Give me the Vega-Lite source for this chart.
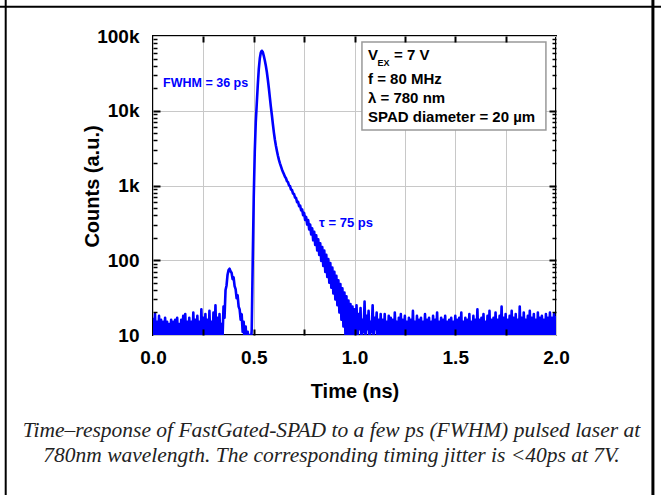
{
"$schema": "https://vega.github.io/schema/vega-lite/v6.json",
"width": 403,
"height": 299,
"autosize": {"type": "none"},
"padding": {"left": 153, "top": 36, "right": 105, "bottom": 160},
"background": "white",
"config": {"view": {"stroke": "black", "strokeWidth": 2}},
"title": {"text": ["Time–response of FastGated-SPAD to a few ps (FWHM) pulsed laser at", "780nm wavelength. The corresponding timing jitter is <40ps at 7V."], "orient": "bottom", "anchor": "middle", "frame": "group", "font": "Liberation Serif", "fontStyle": "italic", "fontWeight": "normal", "fontSize": 21.5, "lineHeight": 25, "color": "#222222", "offset": -76, "dx": -23},
"datasets": {
"dummy": [{"t": 1, "c": 100}],
"trace": [
{"t":0.000,"c":17},{"t":0.005,"c":8},{"t":0.010,"c":19},{"t":0.015,"c":7},{"t":0.020,"c":15},{"t":0.025,"c":9},{"t":0.030,"c":18},{"t":0.035,"c":6},{"t":0.040,"c":16},{"t":0.045,"c":8},
{"t":0.050,"c":15},{"t":0.055,"c":7},{"t":0.060,"c":17},{"t":0.065,"c":9},{"t":0.070,"c":15},{"t":0.075,"c":6},{"t":0.080,"c":14},{"t":0.085,"c":8},{"t":0.090,"c":16},{"t":0.095,"c":7},
{"t":0.100,"c":15},{"t":0.105,"c":9},{"t":0.110,"c":16},{"t":0.115,"c":6},{"t":0.120,"c":17},{"t":0.125,"c":8},{"t":0.130,"c":14},{"t":0.135,"c":7},{"t":0.140,"c":16},{"t":0.145,"c":9},
{"t":0.150,"c":18},{"t":0.155,"c":6},{"t":0.160,"c":19},{"t":0.165,"c":8},{"t":0.170,"c":15},{"t":0.175,"c":7},{"t":0.180,"c":17},{"t":0.185,"c":9},{"t":0.190,"c":15},{"t":0.195,"c":6},
{"t":0.200,"c":20},{"t":0.205,"c":8},{"t":0.210,"c":16},{"t":0.215,"c":7},{"t":0.220,"c":18},{"t":0.225,"c":9},{"t":0.230,"c":15},{"t":0.235,"c":6},{"t":0.240,"c":22},{"t":0.245,"c":8},
{"t":0.250,"c":17},{"t":0.255,"c":7},{"t":0.260,"c":19},{"t":0.265,"c":9},{"t":0.270,"c":16},{"t":0.275,"c":6},{"t":0.280,"c":21},{"t":0.285,"c":8},{"t":0.290,"c":15},{"t":0.295,"c":7},
{"t":0.300,"c":20},{"t":0.305,"c":9},{"t":0.310,"c":25},{"t":0.315,"c":7},{"t":0.320,"c":17},{"t":0.325,"c":8},{"t":0.330,"c":19},{"t":0.335,"c":7},{"t":0.340,"c":14},{"t":0.345,"c":9},
{"t":0.350,"c":24},{"t":0.355,"c":17},{"t":0.360,"c":40},{"t":0.365,"c":46},{"t":0.370,"c":64},{"t":0.375,"c":74},{"t":0.380,"c":77},{"t":0.385,"c":71},{"t":0.390,"c":68},{"t":0.395,"c":56},
{"t":0.400,"c":59},{"t":0.405,"c":45},{"t":0.410,"c":41},{"t":0.415,"c":31},{"t":0.420,"c":34},{"t":0.425,"c":24},{"t":0.430,"c":22},{"t":0.435,"c":16},{"t":0.440,"c":19},{"t":0.445,"c":11},
{"t":0.450,"c":15},{"t":0.455,"c":8},{"t":0.460,"c":13},{"t":0.465,"c":7},{"t":0.470,"c":11},{"t":0.475,"c":6},{"t":0.480,"c":10},{"t":0.485,"c":7},{"t":0.490,"c":12},{"t":0.495,"c":100},
{"t":0.500,"c":700},{"t":0.505,"c":2800},{"t":0.510,"c":7000},{"t":0.515,"c":12500},{"t":0.520,"c":22000},{"t":0.525,"c":36000},{"t":0.530,"c":50000},{"t":0.535,"c":60000},{"t":0.540,"c":63500},{"t":0.545,"c":61000},
{"t":0.550,"c":54000},{"t":0.555,"c":47000},{"t":0.560,"c":40000},{"t":0.565,"c":33000},{"t":0.570,"c":26000},{"t":0.575,"c":20000},{"t":0.580,"c":15000},{"t":0.585,"c":11300},{"t":0.590,"c":8700},{"t":0.595,"c":6600},
{"t":0.600,"c":5100},{"t":0.605,"c":4100},{"t":0.610,"c":3400},{"t":0.615,"c":2900},{"t":0.620,"c":2500},{"t":0.625,"c":2200},{"t":0.630,"c":1980},{"t":0.635,"c":1800},{"t":0.640,"c":1640},{"t":0.645,"c":1520},
{"t":0.650,"c":1410},{"t":0.655,"c":1310},{"t":0.660,"c":1250},{"t":0.665,"c":1140},{"t":0.670,"c":1110},{"t":0.675,"c":1000},{"t":0.680,"c":980},{"t":0.685,"c":880},{"t":0.690,"c":870},{"t":0.695,"c":780},
{"t":0.700,"c":770},{"t":0.705,"c":690},{"t":0.710,"c":680},{"t":0.715,"c":600},{"t":0.720,"c":605},{"t":0.725,"c":530},{"t":0.730,"c":540},{"t":0.735,"c":465},{"t":0.740,"c":480},{"t":0.745,"c":400},
{"t":0.750,"c":430},{"t":0.755,"c":345},{"t":0.760,"c":380},{"t":0.765,"c":300},{"t":0.770,"c":345},{"t":0.775,"c":258},{"t":0.780,"c":300},{"t":0.785,"c":222},{"t":0.790,"c":268},{"t":0.795,"c":185},
{"t":0.800,"c":240},{"t":0.805,"c":160},{"t":0.810,"c":215},{"t":0.815,"c":135},{"t":0.820,"c":190},{"t":0.825,"c":118},{"t":0.830,"c":168},{"t":0.835,"c":98},{"t":0.840,"c":150},{"t":0.845,"c":84},
{"t":0.850,"c":135},{"t":0.855,"c":70},{"t":0.860,"c":118},{"t":0.865,"c":60},{"t":0.870,"c":104},{"t":0.875,"c":50},{"t":0.880,"c":92},{"t":0.885,"c":43},{"t":0.890,"c":80},{"t":0.895,"c":36},
{"t":0.900,"c":70},{"t":0.905,"c":30},{"t":0.910,"c":62},{"t":0.915,"c":25},{"t":0.920,"c":54},{"t":0.925,"c":20},{"t":0.930,"c":48},{"t":0.935,"c":16},{"t":0.940,"c":42},{"t":0.945,"c":13},
{"t":0.950,"c":37},{"t":0.955,"c":10},{"t":0.960,"c":33},{"t":0.965,"c":9},{"t":0.970,"c":29},{"t":0.975,"c":8},{"t":0.980,"c":26},{"t":0.985,"c":7},{"t":0.990,"c":24},{"t":0.995,"c":8},
{"t":1.000,"c":22},{"t":1.005,"c":7},{"t":1.010,"c":25},{"t":1.015,"c":9},{"t":1.020,"c":19},{"t":1.025,"c":12},{"t":1.030,"c":23},{"t":1.035,"c":6},{"t":1.040,"c":16},{"t":1.045,"c":11},
{"t":1.050,"c":28},{"t":1.055,"c":8},{"t":1.060,"c":18},{"t":1.065,"c":12},{"t":1.070,"c":21},{"t":1.075,"c":7},{"t":1.080,"c":15},{"t":1.085,"c":11},{"t":1.090,"c":25},{"t":1.095,"c":8},
{"t":1.100,"c":17},{"t":1.105,"c":12},{"t":1.110,"c":20},{"t":1.115,"c":6},{"t":1.120,"c":16},{"t":1.125,"c":9},{"t":1.130,"c":19},{"t":1.135,"c":7},{"t":1.140,"c":16},{"t":1.145,"c":8},
{"t":1.150,"c":19},{"t":1.155,"c":6},{"t":1.160,"c":15},{"t":1.165,"c":9},{"t":1.170,"c":18},{"t":1.175,"c":7},{"t":1.180,"c":17},{"t":1.185,"c":8},{"t":1.190,"c":16},{"t":1.195,"c":6},
{"t":1.200,"c":20},{"t":1.205,"c":9},{"t":1.210,"c":15},{"t":1.215,"c":7},{"t":1.220,"c":17},{"t":1.225,"c":8},{"t":1.230,"c":19},{"t":1.235,"c":6},{"t":1.240,"c":16},{"t":1.245,"c":9},
{"t":1.250,"c":18},{"t":1.255,"c":7},{"t":1.260,"c":15},{"t":1.265,"c":8},{"t":1.270,"c":17},{"t":1.275,"c":6},{"t":1.280,"c":16},{"t":1.285,"c":9},{"t":1.290,"c":21},{"t":1.295,"c":7},
{"t":1.300,"c":15},{"t":1.305,"c":8},{"t":1.310,"c":18},{"t":1.315,"c":6},{"t":1.320,"c":16},{"t":1.325,"c":9},{"t":1.330,"c":17},{"t":1.335,"c":7},{"t":1.340,"c":15},{"t":1.345,"c":8},
{"t":1.350,"c":19},{"t":1.355,"c":6},{"t":1.360,"c":16},{"t":1.365,"c":9},{"t":1.370,"c":17},{"t":1.375,"c":7},{"t":1.380,"c":15},{"t":1.385,"c":8},{"t":1.390,"c":18},{"t":1.395,"c":6},
{"t":1.400,"c":16},{"t":1.405,"c":9},{"t":1.410,"c":20},{"t":1.415,"c":7},{"t":1.420,"c":15},{"t":1.425,"c":8},{"t":1.430,"c":17},{"t":1.435,"c":6},{"t":1.440,"c":16},{"t":1.445,"c":9},
{"t":1.450,"c":18},{"t":1.455,"c":7},{"t":1.460,"c":15},{"t":1.465,"c":8},{"t":1.470,"c":16},{"t":1.475,"c":6},{"t":1.480,"c":17},{"t":1.485,"c":9},{"t":1.490,"c":15},{"t":1.495,"c":7},
{"t":1.500,"c":18},{"t":1.505,"c":8},{"t":1.510,"c":16},{"t":1.515,"c":6},{"t":1.520,"c":17},{"t":1.525,"c":9},{"t":1.530,"c":20},{"t":1.535,"c":7},{"t":1.540,"c":15},{"t":1.545,"c":8},
{"t":1.550,"c":17},{"t":1.555,"c":6},{"t":1.560,"c":16},{"t":1.565,"c":9},{"t":1.570,"c":19},{"t":1.575,"c":7},{"t":1.580,"c":15},{"t":1.585,"c":8},{"t":1.590,"c":18},{"t":1.595,"c":6},
{"t":1.600,"c":16},{"t":1.605,"c":9},{"t":1.610,"c":22},{"t":1.615,"c":7},{"t":1.620,"c":16},{"t":1.625,"c":8},{"t":1.630,"c":17},{"t":1.635,"c":6},{"t":1.640,"c":19},{"t":1.645,"c":9},
{"t":1.650,"c":15},{"t":1.655,"c":7},{"t":1.660,"c":18},{"t":1.665,"c":8},{"t":1.670,"c":21},{"t":1.675,"c":6},{"t":1.680,"c":16},{"t":1.685,"c":9},{"t":1.690,"c":17},{"t":1.695,"c":7},
{"t":1.700,"c":20},{"t":1.705,"c":8},{"t":1.710,"c":16},{"t":1.715,"c":6},{"t":1.720,"c":18},{"t":1.725,"c":9},{"t":1.730,"c":24},{"t":1.735,"c":7},{"t":1.740,"c":17},{"t":1.745,"c":8},
{"t":1.750,"c":19},{"t":1.755,"c":6},{"t":1.760,"c":16},{"t":1.765,"c":9},{"t":1.770,"c":18},{"t":1.775,"c":7},{"t":1.780,"c":21},{"t":1.785,"c":8},{"t":1.790,"c":17},{"t":1.795,"c":6},
{"t":1.800,"c":19},{"t":1.805,"c":9},{"t":1.810,"c":16},{"t":1.815,"c":7},{"t":1.820,"c":24},{"t":1.825,"c":8},{"t":1.830,"c":17},{"t":1.835,"c":6},{"t":1.840,"c":20},{"t":1.845,"c":9},
{"t":1.850,"c":16},{"t":1.855,"c":7},{"t":1.860,"c":18},{"t":1.865,"c":8},{"t":1.870,"c":21},{"t":1.875,"c":6},{"t":1.880,"c":17},{"t":1.885,"c":9},{"t":1.890,"c":19},{"t":1.895,"c":7},
{"t":1.900,"c":16},{"t":1.905,"c":8},{"t":1.910,"c":20},{"t":1.915,"c":6},{"t":1.920,"c":17},{"t":1.925,"c":9},{"t":1.930,"c":18},{"t":1.935,"c":7},{"t":1.940,"c":16},{"t":1.945,"c":8},
{"t":1.950,"c":19},{"t":1.955,"c":6},{"t":1.960,"c":17},{"t":1.965,"c":9},{"t":1.970,"c":20},{"t":1.975,"c":7},{"t":1.980,"c":17},{"t":1.985,"c":8},{"t":1.990,"c":19},{"t":1.995,"c":6},
{"t":2.000,"c":18}
]},
"layer": [
{
"data": {"name": "trace"},
"mark": {"type": "line", "color": "#0000ff", "strokeWidth": 2.6, "strokeJoin": "round", "clip": true},
"encoding": {
"x": {"field": "t", "type": "quantitative", "scale": {"domain": [0, 2], "nice": false, "zero": false},
"axis": {"orient": "bottom", "values": [0, 0.25, 0.5, 0.75, 1, 1.25, 1.5, 1.75, 2], "labelExpr": "datum.value % 0.5 === 0 ? format(datum.value, '.1f') : ''", "ticks": false, "tickSize": 0, "domain": false, "grid": true, "gridColor": "#c8c8c8", "gridWidth": 1, "labelFont": "Liberation Sans", "labelFontWeight": "bold", "labelFontSize": 19, "labelColor": "black", "labelPadding": 13, "labelFlush": false, "labelOverlap": false, "title": "Time (ns)", "titleFont": "Liberation Sans", "titleFontSize": 20, "titleFontWeight": "bold", "titleColor": "black", "titleY": 56, "titleBaseline": "middle"}},
"y": {"field": "c", "type": "quantitative", "scale": {"type": "log", "domain": [10, 100000], "nice": false},
"axis": {"orient": "left", "values": [10, 100, 1000, 10000, 100000], "labelExpr": "datum.value >= 1000 ? (datum.value / 1000) + 'k' : '' + datum.value", "ticks": false, "tickSize": 0, "domain": false, "grid": true, "gridColor": "#c8c8c8", "gridWidth": 1, "labelFont": "Liberation Sans", "labelFontWeight": "bold", "labelFontSize": 19, "labelColor": "black", "labelPadding": 14, "labelOverlap": false, "title": "Counts (a.u.)", "titleFont": "Liberation Sans", "titleFontSize": 20, "titleFontWeight": "bold", "titleColor": "black", "titleX": -61, "titleY": 150, "titleBaseline": "middle", "titleAngle": -90}}
}
},
{
"data": {"name": "dummy"},
"mark": {"type": "point", "opacity": 0},
"encoding": {
"x": {"field": "t", "type": "quantitative", "axis": {"orient": "bottom", "offset": -6, "values": [0.25, 0.5, 0.75, 1, 1.25, 1.5, 1.75], "labels": false, "ticks": true, "tickSize": 6, "tickWidth": 2, "tickColor": "black", "grid": false, "domain": false, "title": null, "zindex": 1}},
"y": {"field": "c", "type": "quantitative", "axis": {"orient": "left", "offset": -7, "values": [100, 1000, 10000], "labels": false, "ticks": true, "tickSize": 7, "tickWidth": 2, "tickColor": "black", "grid": false, "domain": false, "title": null, "zindex": 1}}
}
},
{
"data": {"name": "dummy"},
"mark": {"type": "point", "opacity": 0},
"encoding": {
"x": {"field": "t", "type": "quantitative", "axis": {"orient": "top", "offset": -6, "values": [0.25, 0.5, 0.75, 1, 1.25, 1.5, 1.75], "labels": false, "ticks": true, "tickSize": 6, "tickWidth": 2, "tickColor": "black", "grid": false, "domain": false, "title": null, "zindex": 1}},
"y": {"field": "c", "type": "quantitative", "axis": {"orient": "right", "offset": -7, "values": [100, 1000, 10000], "labels": false, "ticks": true, "tickSize": 7, "tickWidth": 2, "tickColor": "black", "grid": false, "domain": false, "title": null, "zindex": 1}}
}
},
{
"data": {"name": "dummy"},
"mark": {"type": "point", "opacity": 0},
"encoding": {
"x": {"field": "t", "type": "quantitative", "axis": null},
"y": {"field": "c", "type": "quantitative", "axis": {"orient": "left", "offset": -4, "values": [20, 30, 40, 50, 60, 70, 80, 90, 200, 300, 400, 500, 600, 700, 800, 900, 2000, 3000, 4000, 5000, 6000, 7000, 8000, 9000, 20000, 30000, 40000, 50000, 60000, 70000, 80000, 90000], "labels": false, "ticks": true, "tickSize": 4, "tickWidth": 1.5, "tickColor": "black", "grid": false, "domain": false, "title": null, "zindex": 1}}
}
},
{
"data": {"name": "dummy"},
"mark": {"type": "point", "opacity": 0},
"encoding": {
"x": {"field": "t", "type": "quantitative", "axis": null},
"y": {"field": "c", "type": "quantitative", "axis": {"orient": "right", "offset": -4, "values": [20, 30, 40, 50, 60, 70, 80, 90, 200, 300, 400, 500, 600, 700, 800, 900, 2000, 3000, 4000, 5000, 6000, 7000, 8000, 9000, 20000, 30000, 40000, 50000, 60000, 70000, 80000, 90000], "labels": false, "ticks": true, "tickSize": 4, "tickWidth": 1.5, "tickColor": "black", "grid": false, "domain": false, "title": null, "zindex": 1}}
}
},
{
"data": {"name": "dummy"},
"mark": {"type": "rect", "fill": "white", "stroke": "#999999", "strokeWidth": 1.5},
"encoding": {
"x": {"datum": 1.037, "type": "quantitative", "axis": null},
"x2": {"datum": 1.95},
"y": {"datum": 83200, "type": "quantitative", "axis": null},
"y2": {"datum": 5525}
}
},
{
"data": {"name": "dummy"},
"mark": {"type": "text", "text": "V", "align": "left", "baseline": "middle", "font": "Liberation Sans", "fontWeight": "bold", "fontSize": 15, "color": "black"},
"encoding": {"x": {"datum": 1.067, "type": "quantitative", "axis": null}, "y": {"datum": 55700, "type": "quantitative", "axis": null}}
},
{
"data": {"name": "dummy"},
"mark": {"type": "text", "text": "EX", "align": "left", "baseline": "middle", "font": "Liberation Sans", "fontWeight": "bold", "fontSize": 9, "color": "black"},
"encoding": {"x": {"datum": 1.114, "type": "quantitative", "axis": null}, "y": {"datum": 43500, "type": "quantitative", "axis": null}}
},
{
"data": {"name": "dummy"},
"mark": {"type": "text", "text": "= 7 V", "align": "left", "baseline": "middle", "font": "Liberation Sans", "fontWeight": "bold", "fontSize": 15, "color": "black"},
"encoding": {"x": {"datum": 1.196, "type": "quantitative", "axis": null}, "y": {"datum": 55700, "type": "quantitative", "axis": null}}
},
{
"data": {"name": "dummy"},
"mark": {"type": "text", "text": "f = 80 MHz", "align": "left", "baseline": "middle", "font": "Liberation Sans", "fontWeight": "bold", "fontSize": 15, "color": "black"},
"encoding": {"x": {"datum": 1.067, "type": "quantitative", "axis": null}, "y": {"datum": 26600, "type": "quantitative", "axis": null}}
},
{
"data": {"name": "dummy"},
"mark": {"type": "text", "text": "λ = 780 nm", "align": "left", "baseline": "middle", "font": "Liberation Sans", "fontWeight": "bold", "fontSize": 15, "color": "black"},
"encoding": {"x": {"datum": 1.067, "type": "quantitative", "axis": null}, "y": {"datum": 14830, "type": "quantitative", "axis": null}}
},
{
"data": {"name": "dummy"},
"mark": {"type": "text", "text": "SPAD diameter = 20 µm", "align": "left", "baseline": "middle", "font": "Liberation Sans", "fontWeight": "bold", "fontSize": 15, "color": "black"},
"encoding": {"x": {"datum": 1.067, "type": "quantitative", "axis": null}, "y": {"datum": 8250, "type": "quantitative", "axis": null}}
},
{
"data": {"name": "dummy"},
"mark": {"type": "text", "text": "FWHM = 36 ps", "align": "left", "baseline": "middle", "font": "Liberation Sans", "fontWeight": "bold", "fontSize": 12.5, "color": "#0000ff"},
"encoding": {"x": {"datum": 0.05, "type": "quantitative", "axis": null}, "y": {"datum": 23500, "type": "quantitative", "axis": null}}
},
{
"data": {"name": "dummy"},
"mark": {"type": "text", "text": "τ = 75 ps", "align": "left", "baseline": "middle", "font": "Liberation Sans", "fontWeight": "bold", "fontSize": 13, "color": "#0000ff"},
"encoding": {"x": {"datum": 0.824, "type": "quantitative", "axis": null}, "y": {"datum": 315, "type": "quantitative", "axis": null}}
},
{
"data": {"name": "dummy"},
"mark": {"type": "rule", "color": "black", "strokeWidth": 2, "clip": false},
"encoding": {"x": {"datum": -0.76, "type": "quantitative", "axis": null}, "x2": {"datum": 2.53}, "y": {"datum": 246600, "type": "quantitative", "axis": null}, "y2": {"datum": 246600}}
},
{
"data": {"name": "dummy"},
"mark": {"type": "rule", "color": "black", "strokeWidth": 2, "clip": false},
"encoding": {"x": {"datum": -0.731, "type": "quantitative", "axis": null}, "x2": {"datum": -0.731}, "y": {"datum": 310000, "type": "quantitative", "axis": null}, "y2": {"datum": 0.0724}}
},
{
"data": {"name": "dummy"},
"mark": {"type": "rule", "color": "black", "strokeWidth": 3, "clip": false},
"encoding": {"x": {"datum": 2.481, "type": "quantitative", "axis": null}, "x2": {"datum": 2.481}, "y": {"datum": 310000, "type": "quantitative", "axis": null}, "y2": {"datum": 0.0724}}
}
],
"resolve": {"axis": {"x": "independent", "y": "independent"}}
}
